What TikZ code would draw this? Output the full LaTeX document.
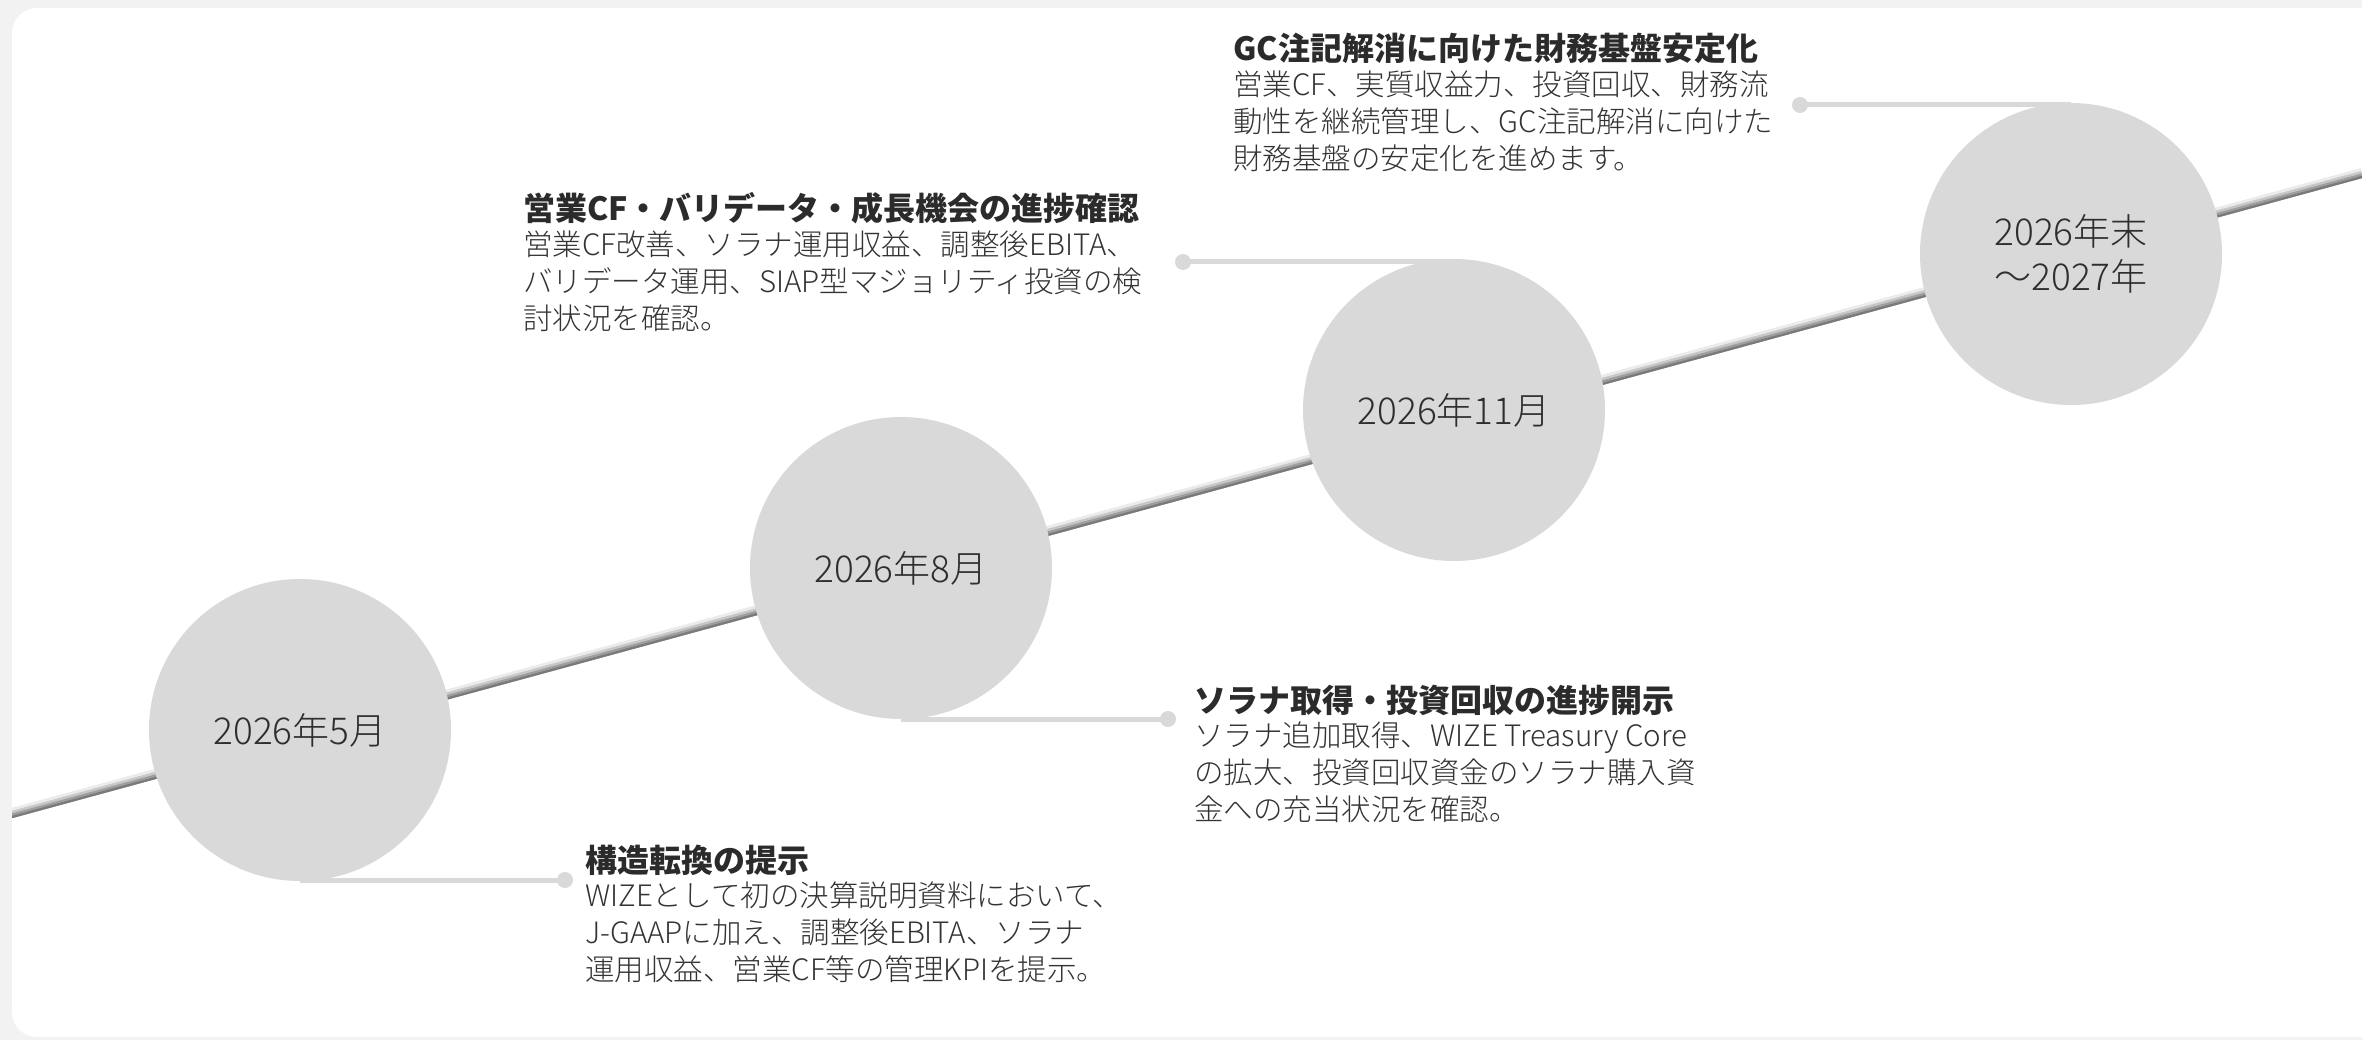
\documentclass[tikz,border=0pt]{standalone}
\usepackage{fontspec}
\setmainfont{Noto Sans CJK JP}
\newfontfamily\lightfont{Noto Sans CJK JP Light}
\usetikzlibrary{calc}
\definecolor{bgc}{HTML}{F2F2F2}
\definecolor{cfill}{HTML}{D9D9D9}
\definecolor{ttl}{HTML}{2B2B2B}
\definecolor{bdy}{HTML}{333333}
\definecolor{ctxt}{HTML}{2E2E2E}
\newcommand\mystrut{\rule{0pt}{27pt}}
\tikzset{
  circ/.style={circle, fill=cfill, minimum size=302pt, inner sep=0pt, text=ctxt,
    font=\lightfont\fontsize{37}{45}\selectfont, align=center},
  conn/.style={draw=cfill, line width=5pt},
  dotnode/.style={circle, fill=cfill, minimum size=16pt, inner sep=0pt},
  ttlnode/.style={anchor=base west, inner sep=0pt, text=ttl, font=\fontsize{32}{40}\selectfont\bfseries},
  bdynode/.style={anchor=north west, inner sep=0pt, text=bdy, align=left, font=\lightfont\fontsize{29.5}{37}\selectfont},
}
\begin{document}
\begin{tikzpicture}[x=1pt,y=-1pt]
\useasboundingbox (0,0) rectangle (2362,1040);
\fill[bgc] (0,0) rectangle (2362,1040);
\begin{scope}
\clip (0,0) rectangle (2362,1040);
\fill[white, rounded corners=25pt] (12,8) rectangle (2440,1037);
\clip (12,0) rectangle (2362,1040);
% diagonal timeline with shading
\coordinate (L0) at (12,813);
\coordinate (L1) at (2362,173);
\draw[line width=10pt, black!8] ($(L0)+(0,0)$) -- ($(L1)+(0,0)$);
\draw[line width=7pt, black!22] ($(L0)+(0,1.5)$) -- ($(L1)+(0,1.5)$);
\draw[line width=4.5pt, black!38] ($(L0)+(0,2.8)$) -- ($(L1)+(0,2.8)$);
\draw[line width=2.2pt, black!52] ($(L0)+(0,4)$) -- ($(L1)+(0,4)$);
\end{scope}
% circle centres
\coordinate (p1) at (300,730);
\coordinate (p2) at (901,568);
\coordinate (p3) at (1454,410);
\coordinate (p4) at (2071,254);
% connectors and dots
\node[dotnode] (d1) at (565,880) {};
\node[dotnode] (d2) at (1168,719) {};
\node[dotnode] (d3) at (1183,262) {};
\node[dotnode] (d4) at (1800,105) {};
\draw[conn] (d1.center) -- (d1.center -| p1);
\draw[conn] (d2.center) -- (d2.center -| p2);
\draw[conn] (d3.center) -- (d3.center -| p3);
\draw[conn] (d4.center) -- (d4.center -| p4);
% circles
\node[circ] (c1) at (p1) {2026年5月};
\node[circ] (c2) at (p2) {2026年8月};
\node[circ] (c3) at (p3) {2026年11月};
\node[circ] (c4) at (p4) {2026年末\\～2027年};
% block 1
\node[ttlnode] (t1) at (585,872) {構造転換の提示};
\node[bdynode] (b1) at (585,879) {\mystrut WIZEとして初の決算説明資料において、\\\mystrut J-GAAPに加え、調整後EBITA、ソラナ\\\mystrut 運用収益、営業CF等の管理KPIを提示。};
% block 2
\node[ttlnode] (t2) at (1194,712) {ソラナ取得・投資回収の進捗開示};
\node[bdynode] (b2) at (1194,719) {\mystrut ソラナ追加取得、WIZE Treasury Core\\\mystrut の拡大、投資回収資金のソラナ購入資\\\mystrut 金への充当状況を確認。};
% block 3
\node[ttlnode] (t3) at (523,221) {営業CF・バリデータ・成長機会の進捗確認};
\node[bdynode] (b3) at (523,228) {\mystrut 営業CF改善、ソラナ運用収益、調整後EBITA、\\\mystrut バリデータ運用、SIAP型マジョリティ投資の検\\\mystrut 討状況を確認。};
% block 4
\node[ttlnode] (t4) at (1233,61) {GC注記解消に向けた財務基盤安定化};
\node[bdynode] (b4) at (1233,68) {\mystrut 営業CF、実質収益力、投資回収、財務流\\\mystrut 動性を継続管理し、GC注記解消に向けた\\\mystrut 財務基盤の安定化を進めます。};
\end{tikzpicture}
\end{document}
